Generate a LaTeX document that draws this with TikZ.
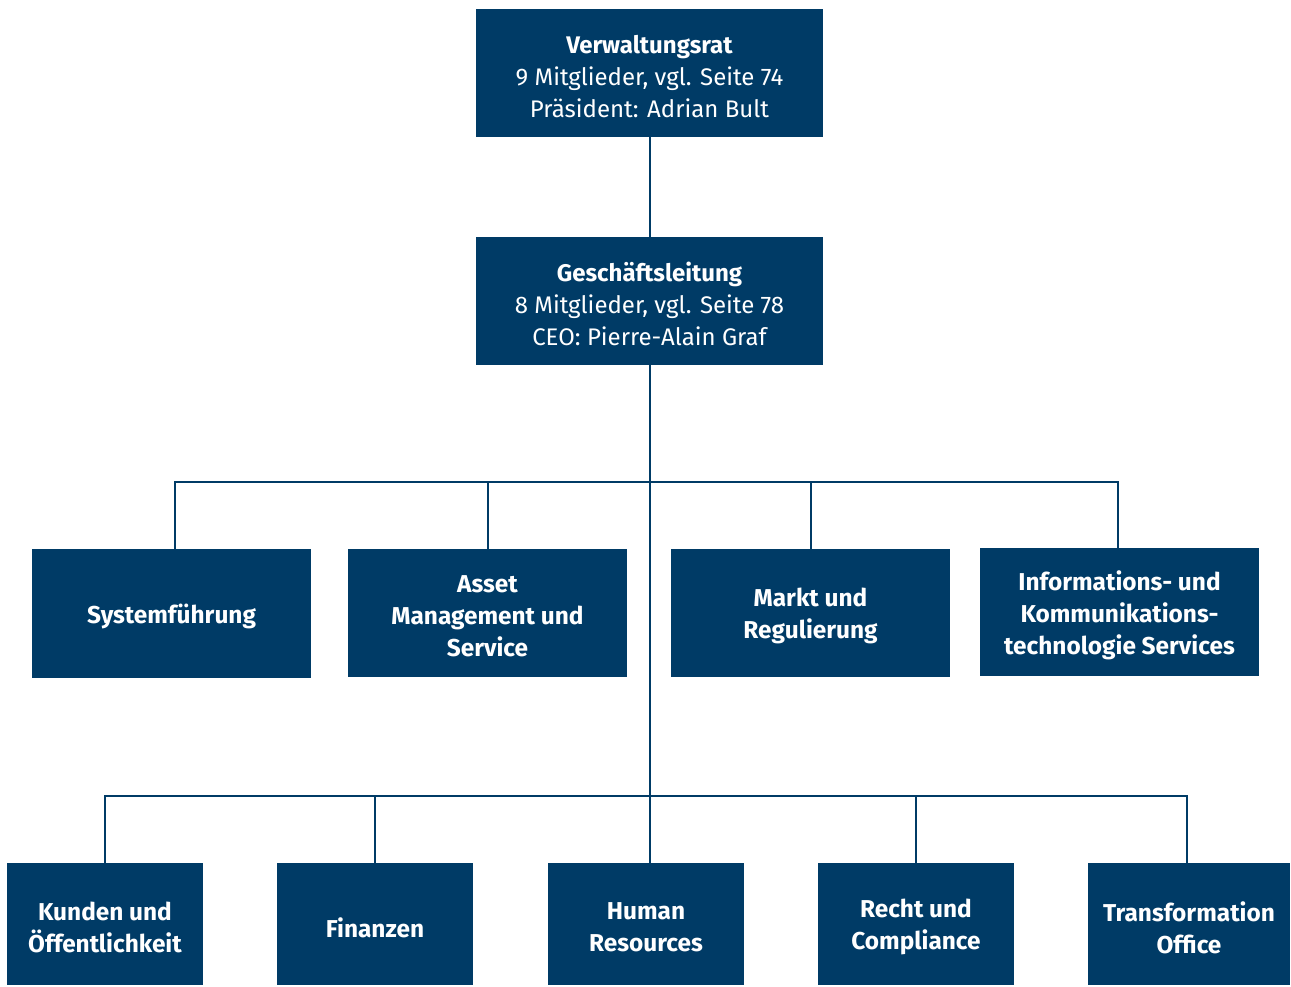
\documentclass[tikz,border=0pt]{standalone}
\usepackage{fontspec}
\setmainfont{Fira Sans}
\definecolor{navy}{RGB}{0,59,102}
\begin{document}
\begin{tikzpicture}[x=0.75pt,y=-0.75pt,
  box/.style={fill=navy,text=white,inner sep=0pt,align=center,font=\fontsize{18}{24}\selectfont},
  bx/.style={box,font=\fontsize{18.3}{24}\selectfont\bfseries},
  conn/.style={draw=navy,line width=1.5pt}]
\useasboundingbox (0,0) rectangle (1291,986);
\newcommand{\obox}[6]{\node[#6,minimum width={(#4-#2)*0.75pt},minimum height={(#5-#3)*0.75pt}] (#1) at ({(#2+#4)/2},{(#3+#5)/2}) {};}
\obox{vr}{476}{9}{823}{137}{box}
\obox{gl}{476}{237}{823}{365}{box}
\obox{sf}{32}{549}{311}{678}{box}
\obox{am}{348}{549}{627}{677}{box}
\obox{mr}{671}{549}{950}{677}{box}
\obox{ict}{980}{548}{1259}{676}{box}
\obox{ku}{7}{863}{203}{985}{box}
\obox{fi}{277}{863}{473}{985}{box}
\obox{hr}{548}{863}{744}{985}{box}
\obox{re}{818}{863}{1014}{985}{box}
\obox{to}{1088}{863}{1290}{985}{box}
% texts
\tikzset{lbl/.style={fill=none,yshift=-2.5pt}}
\node[box,lbl] at (vr.center) {\textbf{Verwaltungsrat}\\9 Mitglieder, vgl. Seite 74\\Präsident: Adrian Bult};
\node[box,lbl] at (gl.center) {\textbf{Geschäftsleitung}\\8 Mitglieder, vgl. Seite 78\\CEO: Pierre-Alain Graf};
\node[bx,lbl] at (sf.center) {Systemführung};
\node[bx,lbl] at (am.center) {Asset\\Management und\\Service};
\node[bx,lbl] at (mr.center) {Markt und\\Regulierung};
\node[bx,lbl] at (ict.center) {Informations- und\\Kommunikations-\\technologie Services};
\node[bx,lbl] at (ku.center) {Kunden und\\Öffentlichkeit};
\node[bx,lbl] at (fi.center) {Finanzen};
\node[bx,lbl] at (hr.center) {Human\\Resources};
\node[bx,lbl] at (re.center) {Recht und\\Compliance};
\node[bx,lbl] at (to.center) {Transformation\\Office};
% connectors
\coordinate (b1) at (650,482);
\coordinate (b2) at (650,796);
\coordinate (sfc) at ([xshift=2.6pt]sf.north);
\coordinate (ictc) at ([xshift=-1.1pt]ict.north);
\coordinate (toc) at ([xshift=-1.5pt]to.north);
\draw[conn] (vr.south) -- (gl.north);
\draw[conn] (gl.south) -- (hr.north -| gl.south);
\draw[conn] (sfc) -- (sfc |- b1) -- (ictc |- b1) -- (ictc);
\draw[conn] (am.north) -- (am.north |- b1);
\draw[conn] (mr.north) -- (mr.north |- b1);
\draw[conn] (ku.north) -- (ku.north |- b2) -- (toc |- b2) -- (toc);
\draw[conn] (fi.north) -- (fi.north |- b2);
\draw[conn] (re.north) -- (re.north |- b2);
\end{tikzpicture}
\end{document}
